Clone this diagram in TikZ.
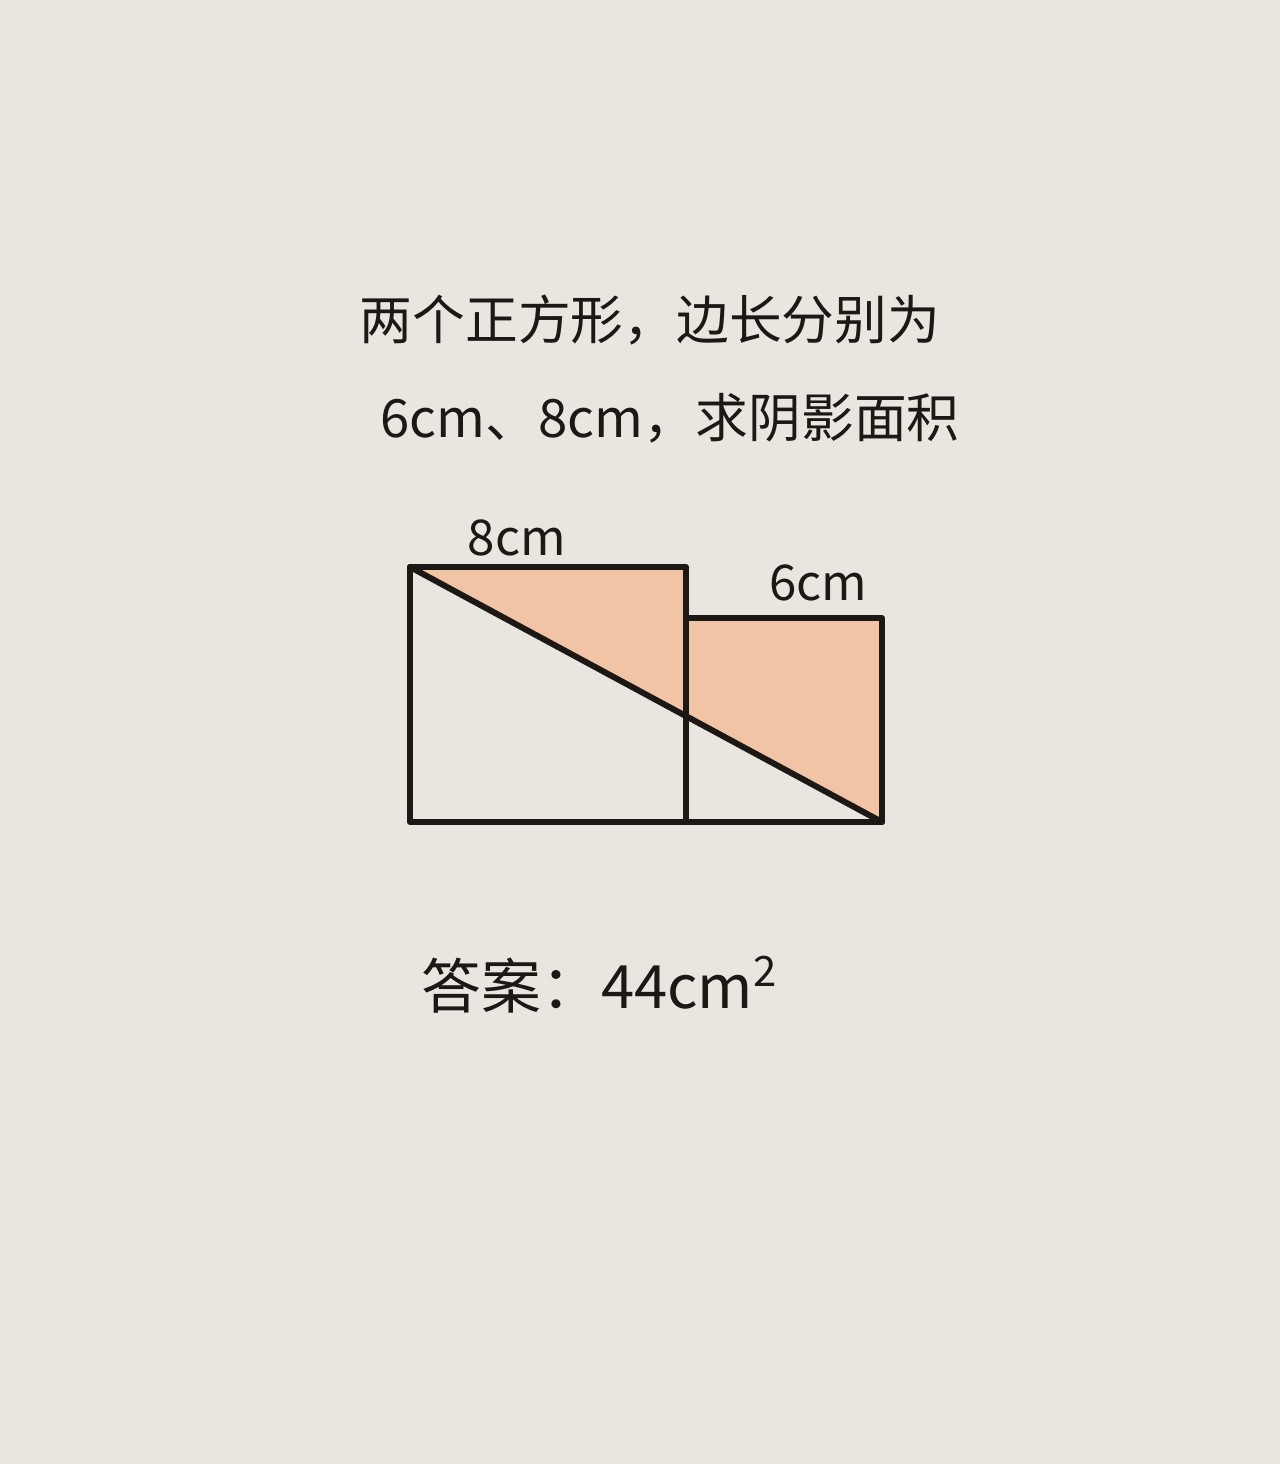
\documentclass[tikz,border=0pt]{standalone}
\usepackage{fontspec}
\newfontfamily\cjk{Noto Sans CJK SC}
\definecolor{paper}{RGB}{233,230,223}
\definecolor{pencil}{RGB}{242,196,166}
\definecolor{ink}{RGB}{28,24,22}
\begin{document}
\begin{tikzpicture}[x=0.01cm,y=-0.01cm,line join=round,line cap=round,thick]
		\tikzset{pen/.style={draw=ink,line width=1.7pt},
			txt/.style={font=\cjk\fontsize{15}{18}\selectfont,text=ink,inner sep=0pt},
			lbl/.style={font=\cjk\fontsize{14}{16}\selectfont,text=ink,inner sep=0pt}}
		\fill[paper] (0,0) rectangle (1280,1464);
		\useasboundingbox (0,0) rectangle (1280,1464);
		% corners of the two squares
		\coordinate (A) at (410,567);
		\coordinate (B) at (686,567);
		\coordinate (C) at (686,822);
		\coordinate (D) at (410,822);
		\coordinate (E) at (686,618);
		\coordinate (F) at (882,618);
		\coordinate (G) at (882,822);
		\fill[pencil] (A)--(B)--(E)--(F)--(G)--cycle;
		\draw[pen] (A) rectangle (C);
		\draw[pen] (E)--(F)--(G)--(C);
		\draw[pen] (A)--(G);
		\node[txt] (title1) at (650,320) {两个正方形，边长分别为};
		\node[txt] (title2) at (670,418) {6cm、8cm，求阴影面积};
		\node[lbl] (big) at (517,538) {8cm};
		\node[lbl] (small) at (818,583) {6cm};
		\node[txt,font=\cjk\fontsize{17}{20}\selectfont] (answer) at (600,985) {答案：44cm\textsuperscript{2}};
		\end{tikzpicture}
\end{document}
